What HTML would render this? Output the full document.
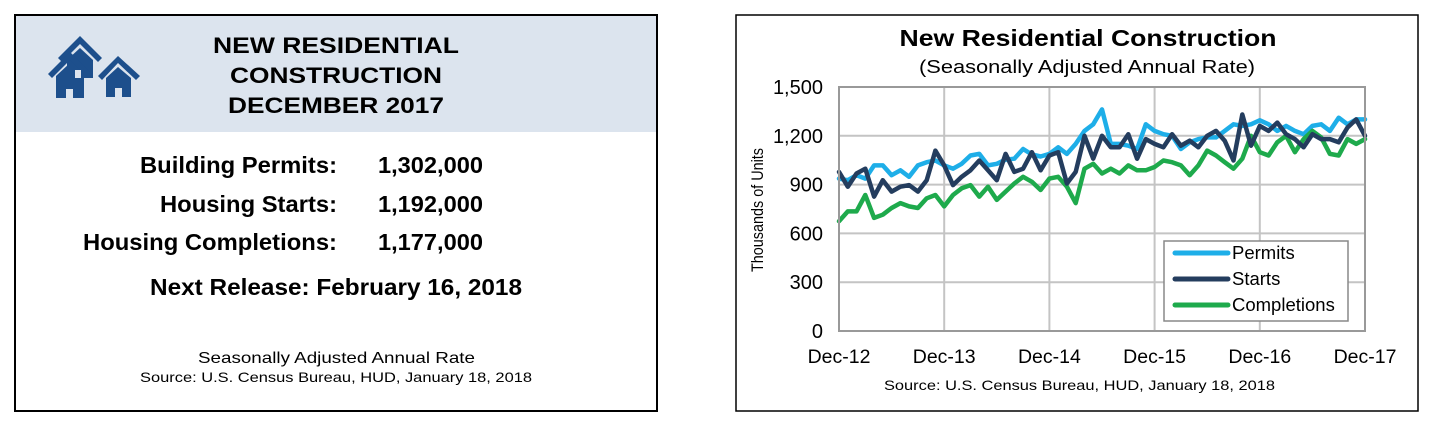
<!DOCTYPE html>
<html><head><meta charset="utf-8">
<style>
html,body{margin:0;padding:0;background:#fff;}
svg{display:block;font-family:"Liberation Sans",Arial,sans-serif;}
</style></head>
<body>
<svg id="root" width="1430" height="424" viewBox="0 0 1430 424" xmlns="http://www.w3.org/2000/svg">
  <g>
    <rect x="15" y="15" width="642" height="396" fill="#fff" stroke="#000" stroke-width="2"/>
    <rect x="16" y="16" width="640" height="116" fill="#dce4ee"/>
    <g fill="#1d4f8c">
      <polygon points="58,58 80,36 102,58 98,62 80,44 62,62"/>
      <polygon points="67,60 80,48 93,60 93,78 67,78"/>
      <polygon points="48,74 70,52 92,74 88,78 70,60 52,78"/>
      <polygon points="56,76 70,63 84,76 84,98 56,98"/>
      <polygon points="98,76 118,56 140,76 136,80 118,63 102,80"/>
      <polygon points="106,78 118,67 131,78 131,97 106,97"/>
      <rect x="75" y="70" width="6" height="8" fill="#dce4ee"/>
      <rect x="66" y="89" width="7" height="9" fill="#dce4ee"/>
      <rect x="115" y="88" width="7" height="9" fill="#dce4ee"/>
    </g>
    <g font-weight="bold" font-size="22" text-anchor="middle" fill="#000">
      <text x="336" y="53" textLength="246" lengthAdjust="spacingAndGlyphs">NEW RESIDENTIAL</text>
      <text x="336" y="83" textLength="212" lengthAdjust="spacingAndGlyphs">CONSTRUCTION</text>
      <text x="336" y="113" textLength="216" lengthAdjust="spacingAndGlyphs">DECEMBER 2017</text>
    </g>
    <g font-weight="bold" font-size="23" fill="#000">
      <text x="140" y="173" textLength="197" lengthAdjust="spacingAndGlyphs">Building Permits:</text>
      <text x="378" y="173" textLength="105" lengthAdjust="spacingAndGlyphs">1,302,000</text>
      <text x="160" y="212" textLength="177" lengthAdjust="spacingAndGlyphs">Housing Starts:</text>
      <text x="378" y="212" textLength="105" lengthAdjust="spacingAndGlyphs">1,192,000</text>
      <text x="83" y="250" textLength="254" lengthAdjust="spacingAndGlyphs">Housing Completions:</text>
      <text x="378" y="250" textLength="105" lengthAdjust="spacingAndGlyphs">1,177,000</text>
      <text x="150" y="295" textLength="372" lengthAdjust="spacingAndGlyphs">Next Release:  February 16, 2018</text>
    </g>
    <text x="198" y="363" font-size="16" textLength="277" lengthAdjust="spacingAndGlyphs">Seasonally Adjusted Annual Rate</text>
    <text x="140" y="382" font-size="14" textLength="392" lengthAdjust="spacingAndGlyphs">Source:  U.S. Census Bureau, HUD, January 18, 2018</text>
  </g>

  <g>
    <rect x="736" y="15" width="682" height="396" fill="#fff" stroke="#000" stroke-width="1.5"/>
    <text x="1088" y="46" font-size="23" font-weight="bold" text-anchor="middle" textLength="377" lengthAdjust="spacingAndGlyphs">New Residential Construction</text>
    <text x="1087" y="73" font-size="18" text-anchor="middle" textLength="336" lengthAdjust="spacingAndGlyphs">(Seasonally Adjusted Annual Rate)</text>
    <text transform="translate(763,210) rotate(-90)" font-size="17" text-anchor="middle" textLength="124" lengthAdjust="spacingAndGlyphs">Thousands of Units</text>
    <g id="grid"></g>
    <g id="yticks"></g>
    <g id="xticks"></g>
    <g id="series"></g>
    <rect x="839" y="87" width="526" height="244" fill="none" stroke="#999" stroke-width="2"/>
    <g>
      <rect x="1164" y="241" width="184" height="80" fill="#fff" stroke="#888" stroke-width="1.5"/>
      <g>
        <line x1="1175" y1="253" x2="1228" y2="253" stroke="#1eaee8" stroke-width="5" stroke-linecap="round"/>
        <text x="1232" y="259" font-size="18.5">Permits</text>
      </g>
      <g>
        <line x1="1175" y1="279" x2="1228" y2="279" stroke="#243d5e" stroke-width="5" stroke-linecap="round"/>
        <text x="1232" y="285" font-size="18.5">Starts</text>
      </g>
      <g>
        <line x1="1175" y1="305" x2="1228" y2="305" stroke="#1eaa4c" stroke-width="5" stroke-linecap="round"/>
        <text x="1232" y="311" font-size="18.5">Completions</text>
      </g>
    </g>
    <text x="884" y="390" font-size="14" textLength="391" lengthAdjust="spacingAndGlyphs">Source:  U.S. Census Bureau, HUD, January 18, 2018</text>
  </g>
</svg>
<script>
const yTickValues = [0, 300, 600, 900, 1200, 1500];
const yTickLabels = ["0", "300", "600", "900", "1,200", "1,500"];
const xTickMonths = [0, 12, 24, 36, 48, 60];
const xTickLabels = ["Dec-12", "Dec-13", "Dec-14", "Dec-15", "Dec-16", "Dec-17"];
const permits = [937,927,958,937,1018,1018,958,988,948,1018,1038,1048,1018,998,1028,1079,1089,1018,1028,1053,1059,1119,1085,1073,1089,1129,1089,1150,1230,1271,1362,1150,1150,1139,1119,1271,1230,1210,1200,1119,1160,1180,1190,1190,1230,1271,1261,1271,1295,1271,1230,1261,1230,1210,1261,1271,1230,1311,1271,1301,1301];
const starts = [978,887,968,998,826,927,857,887,897,857,927,1109,1018,897,948,988,1048,988,927,1089,978,998,1099,988,1079,1099,907,978,1200,1059,1200,1129,1129,1210,1059,1180,1150,1129,1210,1139,1170,1129,1200,1230,1170,1048,1331,1139,1261,1230,1281,1210,1180,1129,1210,1180,1180,1160,1251,1301,1200];
const completions = [675,735,735,836,695,715,756,786,766,756,816,836,766,836,877,897,826,887,806,857,907,948,917,867,937,948,887,786,998,1028,968,998,968,1018,988,988,1008,1048,1038,1018,958,1018,1109,1079,1038,998,1059,1200,1099,1079,1160,1200,1099,1180,1230,1190,1089,1079,1180,1150,1180];

const NS = "http://www.w3.org/2000/svg";
const X0 = 839, X1 = 1365, Y0 = 331, Y1 = 87;
function xScale(i){ return X0 + (X1 - X0) * i / 60; }
function yScale(v){ return Y0 - (Y0 - Y1) * v / 1500; }
function mk(tag, attrs, parent){ const e = document.createElementNS(NS, tag); for (const k in attrs) e.setAttribute(k, attrs[k]); parent.appendChild(e); return e; }

const grid = document.getElementById('grid');
const yt = document.getElementById('yticks');
const xt = document.getElementById('xticks');
const ser = document.getElementById('series');

yTickValues.forEach((v, i) => {
  const ln = mk('line', {x1: X0, x2: X1, y1: yScale(v), y2: yScale(v), stroke: '#c4c4c4', 'stroke-width': 2}, grid);
  
  
  const t = mk('text', {x: 823, y: yScale(v) + 7, 'font-size': 20, 'text-anchor': 'end'}, yt);
  t.textContent = yTickLabels[i];
  
  
});
xTickMonths.forEach((m, i) => {
  const ln = mk('line', {x1: xScale(m), x2: xScale(m), y1: Y0, y2: Y1, stroke: '#c4c4c4', 'stroke-width': 2}, grid);
  
  
  const t = mk('text', {x: xScale(m), y: 363, 'font-size': 19.5, 'text-anchor': 'middle'}, xt);
  t.textContent = xTickLabels[i];
  
  
});

function drawLine(data, color, name){
  const pts = data.map((v, i) => xScale(i).toFixed(1) + ',' + yScale(v).toFixed(1)).join(' ');
  const p = mk('polyline', {points: pts, fill: 'none', stroke: color, 'stroke-width': 4.5, 'stroke-linejoin': 'round', 'stroke-linecap': 'round'}, ser);
  
  
}
drawLine(permits, '#1eaee8', 'permits-line');
drawLine(completions, '#1eaa4c', 'completions-line');
drawLine(starts, '#243d5e', 'starts-line');
</script>
</body></html>
